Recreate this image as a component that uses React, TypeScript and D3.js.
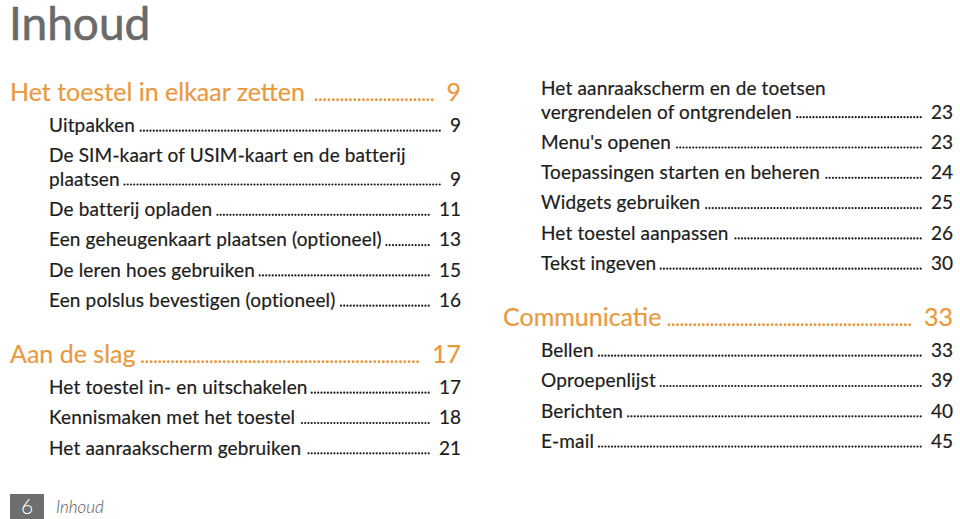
import React, { useEffect, useRef } from 'react';
import * as d3 from 'd3';

// inhoudsopgave, linker kolom
const leftLabels = [
  'Het toestel in elkaar zetten',
  'Uitpakken',
  'De SIM-kaart of USIM-kaart en de batterij\nplaatsen',
  'De batterij opladen',
  'Een geheugenkaart plaatsen (optioneel)',
  'De leren hoes gebruiken',
  'Een polslus bevestigen (optioneel)',
  'Aan de slag',
  'Het toestel in- en uitschakelen',
  'Kennismaken met het toestel',
  'Het aanraakscherm gebruiken',
];
const leftPages = ['9', '9', '9', '11', '13', '15', '16', '17', '17', '18', '21'];
const leftLevels = [0, 1, 1, 1, 1, 1, 1, 0, 1, 1, 1];

// rechter kolom
const rightLabels = [
  'Het aanraakscherm en de toetsen\nvergrendelen of ontgrendelen',
  "Menu's openen",
  'Toepassingen starten en beheren',
  'Widgets gebruiken',
  'Het toestel aanpassen',
  'Tekst ingeven',
  'Communicatie',
  'Bellen',
  'Oproepenlijst',
  'Berichten',
  'E-mail',
];
const rightPages = ['23', '23', '24', '25', '26', '30', '33', '33', '39', '40', '45'];
const rightLevels = [1, 1, 1, 1, 1, 1, 0, 1, 1, 1, 1];

const pageTitle = 'Inhoud';
const footerNumber = '6';
const footerLabel = 'Inhoud';

const W = 960, H = 519;
const FONT = 'Lato, "Open Sans", sans-serif';
const ORANGE = '#E99A40';
const DARK = '#1c1c1c';

export default function App() {
  const ref = useRef<SVGSVGElement>(null);

  useEffect(() => {
    const svg = d3.select(ref.current);
    svg.selectAll('*').remove();

    svg.append('rect').attr('width', W).attr('height', H).attr('fill', '#fff');

    // titel
    svg.append('text')
      .attr('x', 9).attr('y', 40)
      .attr('font-family', FONT).attr('font-size', 46)
      .attr('fill', '#6a6a6a')
      .attr('stroke', '#6a6a6a').attr('stroke-width', 0.6)
      .text(pageTitle);

    const drawColumn = (labels, pages, levels, opt) => {
      const g = svg.append('g');
      let y = opt.startY;
      let prev = null;
      labels.forEach((label, i) => {
        const lvl = levels[i];
        if (prev !== null) {
          if (lvl === 0) y += 56;
          else if (prev === 0) y += 31;
          else y += 30.3;
        }
        const lines = label.split('\n');
        const head = lvl === 0;
        const size = head ? 25 : 19;
        const color = head ? ORANGE : DARK;
        const x = head ? opt.headX : opt.subX;
        const style = (s) => s
          .attr('font-family', FONT).attr('font-size', size)
          .attr('letter-spacing', head ? 0 : 0.15)
          .attr('fill', color)
          .attr('stroke', color).attr('stroke-width', 0.2);
        lines.forEach((ln, j) => {
          if (j > 0) y += 23.5;
          const t = g.append('text')
            .attr('x', x).attr('y', y)
            .call(style)
            .text(ln);
          if (j === lines.length - 1) {
            const num = g.append('text')
              .attr('x', opt.right).attr('y', y)
              .attr('text-anchor', 'end')
              .call(style)
              .attr('letter-spacing', 0)
              .text(pages[i]);
            const tw = (t.node() as SVGTextElement).getComputedTextLength();
            const nw = (num.node() as SVGTextElement).getComputedTextLength();
            const x0 = x + tw + (head ? 7 : 4);
            const x1 = opt.right - nw - (head ? 10 : 7);
            const step = head ? 4.3 : 3.25;
            const n = Math.floor((x1 - x0) / step);
            g.append('line')
              .attr('x1', x1 - n * step).attr('x2', x1)
              .attr('y1', y - 1.3).attr('y2', y - 1.3)
              .attr('stroke', color)
              .attr('stroke-width', head ? 2.9 : 2.2)
              .attr('stroke-linecap', 'round')
              .attr('stroke-dasharray', `0 ${step}`);
          }
        });
        prev = lvl;
      });
    };

    drawColumn(leftLabels, leftPages, leftLevels, { startY: 101, headX: 10, subX: 49, right: 461 });
    drawColumn(rightLabels, rightPages, rightLevels, { startY: 95, headX: 503, subX: 541, right: 953 });

    // voettekst
    svg.append('rect')
      .attr('x', 10).attr('y', 494).attr('width', 34).attr('height', 25)
      .attr('fill', '#6e6e6e');
    svg.append('text')
      .attr('x', 27).attr('y', 514)
      .attr('text-anchor', 'middle')
      .attr('font-family', FONT).attr('font-size', 21).attr('font-weight', 300)
      .attr('fill', '#fff')
      .text(footerNumber);
    svg.append('text')
      .attr('x', 56).attr('y', 513)
      .attr('font-family', FONT).attr('font-size', 17)
      .attr('font-style', 'italic').attr('font-weight', 300)
      .attr('fill', '#555')
      .text(footerLabel);
  }, []);

  return (
    <div style={{ position: 'fixed', left: 0, top: 0 }}>
      <svg ref={ref} width={W} height={H} style={{ display: 'block' }} />
    </div>
  );
}
